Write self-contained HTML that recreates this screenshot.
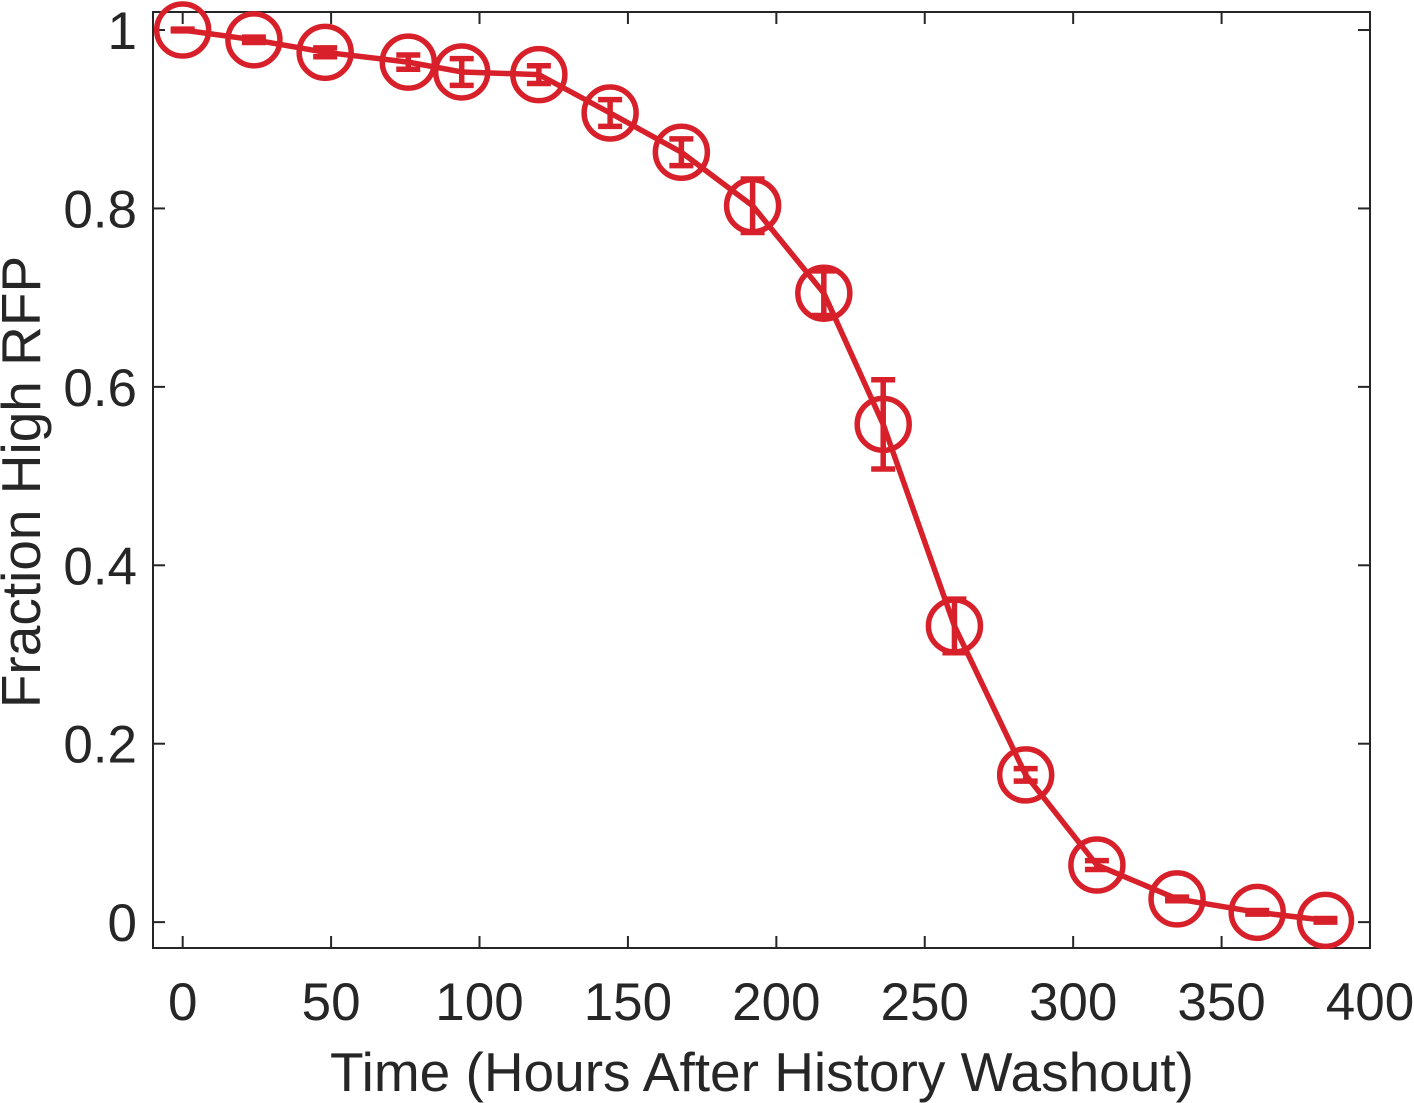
<!DOCTYPE html>
<html><head><meta charset="utf-8"><style>
html,body{margin:0;padding:0;background:#fff;}
svg{display:block;font-family:"Liberation Sans",Arial,sans-serif;}
</style></head><body>
<svg id="chart" width="1414" height="1103" viewBox="0 0 1414 1103" xmlns="http://www.w3.org/2000/svg"></svg>
<script>
const hours = [0,24,48,76,94,120,144,168,192,216,236,260,284,308,335,362,385];
const fraction = [1.0,0.989,0.975,0.964,0.953,0.95,0.907,0.863,0.803,0.705,0.558,0.332,0.165,0.064,0.026,0.011,0.002];
const errs = [0.001,0.003,0.005,0.008,0.015,0.01,0.015,0.015,0.03,0.025,0.05,0.03,0.007,0.005,0.002,0.002,0.002];
const xTicks = [0,50,100,150,200,250,300,350,400];
const yTicks = [0,0.2,0.4,0.6,0.8,1];
const yTickLabels = ["0","0.2","0.4","0.6","0.8","1"];

const L=153,R=1370,T=12,B=948;
const xMin=-10,xMax=400,yMin=-0.029,yMax=1.0202;
const xs=v=>L+(v-xMin)/(xMax-xMin)*(R-L);
const ys=v=>B-(v-yMin)/(yMax-yMin)*(B-T);
const svg=document.getElementById('chart');
const NS='http://www.w3.org/2000/svg';
function mk(tag,attrs,parent){const e=document.createElementNS(NS,tag);for(const k in attrs)e.setAttribute(k,attrs[k]);(parent||svg).appendChild(e);return e;}
const C='#d7202a', A='#262626';

const box=mk('rect',{x:L,y:T,width:R-L,height:B-T,fill:'none',stroke:A,'stroke-width':2});



xTicks.forEach(v=>{
  const x=xs(v);
  const t1=mk('line',{x1:x,x2:x,y1:B,y2:B-12,stroke:A,'stroke-width':2});
  
  
  const t2=mk('line',{x1:x,x2:x,y1:T,y2:T+12,stroke:A,'stroke-width':2});
  
  
  const tx=mk('text',{x:x,y:1020,'font-size':53,fill:A,'text-anchor':'middle'});
  tx.textContent=v;
  
  
});
yTicks.forEach((v,i)=>{
  const y=ys(v);
  const t1=mk('line',{x1:L,x2:L+12,y1:y,y2:y,stroke:A,'stroke-width':2});
  
  
  const t2=mk('line',{x1:R,x2:R-12,y1:y,y2:y,stroke:A,'stroke-width':2});
  
  
  const tx=mk('text',{x:137,y:y+19,'font-size':53,fill:A,'text-anchor':'end'});
  tx.textContent=yTickLabels[i];
  
  
});
const xl=mk('text',{x:762,y:1091,'font-size':55,fill:A,'text-anchor':'middle'});
xl.textContent='Time (Hours After History Washout)';


const yl=mk('text',{x:0,y:0,'font-size':55,fill:A,'text-anchor':'middle',transform:'translate(40,482) rotate(-90)'});
yl.textContent='Fraction High RFP';



const line=mk('polyline',{points:hours.map((h,i)=>xs(h)+','+ys(fraction[i])).join(' '),fill:'none',stroke:C,'stroke-width':5.5,'stroke-linejoin':'round'});



hours.forEach((h,i)=>{
  const x=xs(h),y=ys(fraction[i]),y1=ys(fraction[i]+errs[i]),y2=ys(fraction[i]-errs[i]);
  const g=mk('g',{});
  
  
  mk('line',{x1:x,x2:x,y1:y1,y2:y2,stroke:C,'stroke-width':5.5},g);
  mk('line',{x1:x-12,x2:x+12,y1:y1,y2:y1,stroke:C,'stroke-width':5.5},g);
  mk('line',{x1:x-12,x2:x+12,y1:y2,y2:y2,stroke:C,'stroke-width':5.5},g);
  mk('circle',{cx:x,cy:y,r:26,fill:'none',stroke:C,'stroke-width':5.5},g);
});
</script>
</body></html>
